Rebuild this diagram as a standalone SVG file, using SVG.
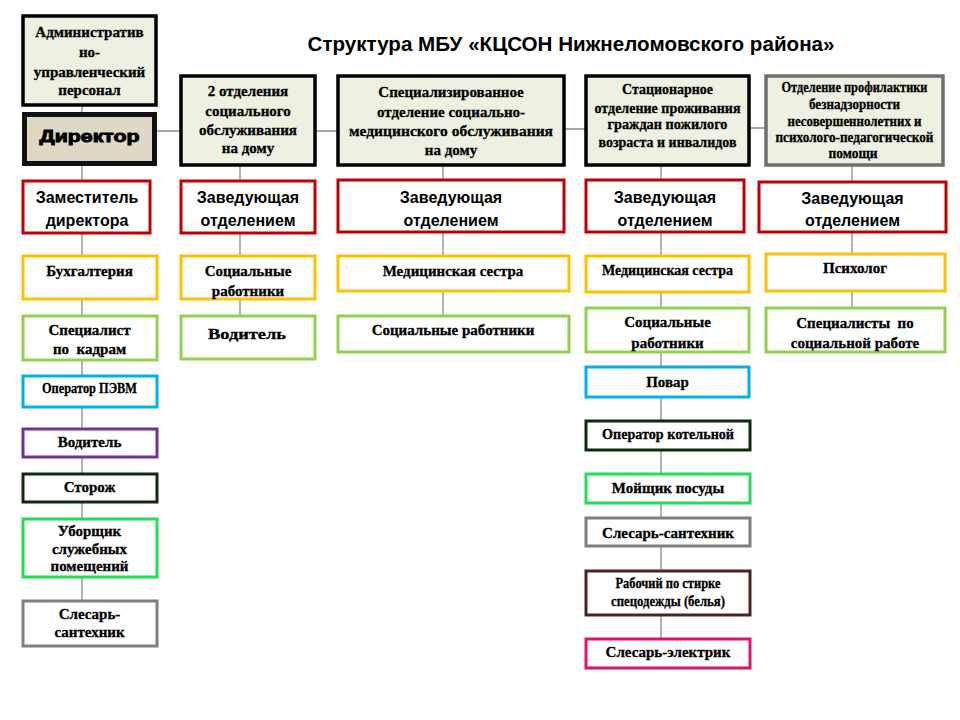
<svg xmlns="http://www.w3.org/2000/svg" width="960" height="720" viewBox="0 0 960 720">
<style>
.hd{fill:#eef0e2;stroke:#000;stroke-width:3.5}
.bx{fill:#fff;stroke-width:3}
.red{stroke:#c00000}.yel{stroke:#ffc000}.grn{stroke:#92d050}.cya{stroke:#00b0f0}
.pur{stroke:#7030a0}.dgr{stroke:#0e2a0e}.bgr{stroke:#22dd55}.gry{stroke:#808080}
.brn{stroke:#4f2222}.pnk{stroke:#e3106d}
.t{font-family:"Liberation Serif","Times New Roman",serif;font-weight:bold;font-size:15px;fill:#000;stroke:#000;stroke-width:0.3;text-anchor:middle}
.s{font-family:"Liberation Sans",Arial,sans-serif;font-weight:bold;font-size:16px;fill:#000;text-anchor:middle}
.c{fill:none;stroke:#8a8a8a;stroke-width:1.3}
</style>
<rect width="960" height="720" fill="#fff"/>
<text x="571" y="51" font-family="Liberation Sans,Arial,sans-serif" font-weight="bold" font-size="20" text-anchor="middle" textLength="527" lengthAdjust="spacingAndGlyphs">Структура МБУ «КЦСОН Нижнеломовского района»</text>
<g id="connectors">
<path class="c" d="M82 106V112M82 165V180M82 234V255M82 300V315M82 361V375M82 408V428M82 458V473M82 503V518M82 578V600"/>
<path class="c" d="M240 166V180M240 234V255M240 300V315"/>
<path class="c" d="M443 166V180M443 233V255M443 292V315"/>
<path class="c" d="M661 166V180M661 233V255M661 292V307M661 353V366M661 397V420M661 451V473M661 504V517M661 547V570M661 616V638"/>
<path class="c" d="M852 166V181M852 233V253M852 292V307"/>
<path class="c" d="M157 131H180M316 131H337M565 129H585M750 128H765"/>
</g>
<g id="admin"><rect class="hd" x="23" y="16" width="133" height="89"/>
<text class="t" x="89.5" y="37">Административ</text><text class="t" x="89.5" y="57">но-</text><text class="t" x="89.5" y="77">управленческий</text><text class="t" x="89.5" y="95">персонал</text></g>
<g id="director"><rect x="24.5" y="114.5" width="130" height="49" fill="#ddd9c4" stroke="#111" stroke-width="5"/>
<text class="s" x="89.5" y="142" font-size="22" stroke="#000" stroke-width="0.9" textLength="100" lengthAdjust="spacingAndGlyphs">Директор</text></g>
<g id="deputy"><rect class="bx red" x="23" y="181" width="127" height="52"/>
<text class="s" x="87" y="203">Заместитель</text><text class="s" x="87" y="226">директора</text></g>
<g id="buh"><rect class="bx yel" x="23" y="256" width="134" height="43"/><text class="t" x="89.5" y="276">Бухгалтерия</text></g>
<g id="kadry"><rect class="bx grn" x="23" y="316" width="134" height="44"/><text class="t" x="89.5" y="335">Специалист</text><text class="t" x="89.5" y="354">по&#160; кадрам</text></g>
<g id="pevm"><rect class="bx cya" x="23" y="376" width="134" height="31"/><text class="t" x="89.5" y="393" font-size="12" textLength="95" lengthAdjust="spacingAndGlyphs">Оператор ПЭВМ</text></g>
<g id="driver1"><rect class="bx pur" x="23" y="429" width="134" height="28"/><text class="t" x="89.5" y="447">Водитель</text></g>
<g id="guard"><rect class="bx dgr" x="23" y="474" width="134" height="28"/><text class="t" x="89.5" y="492">Сторож</text></g>
<g id="cleaner"><rect class="bx bgr" x="23" y="519" width="134" height="58"/><text class="t" x="89.5" y="536">Уборщик</text><text class="t" x="89.5" y="554">служебных</text><text class="t" x="89.5" y="571">помещений</text></g>
<g id="plumber1"><rect class="bx gry" x="23" y="601" width="134" height="45"/><text class="t" x="89.5" y="619">Слесарь-</text><text class="t" x="89.5" y="637">сантехник</text></g>

<g id="dept2"><rect class="hd" x="181" y="76" width="134" height="89"/>
<text class="t" x="248" y="96">2 отделения</text><text class="t" x="248" y="116">социального</text><text class="t" x="248" y="135">обслуживания</text><text class="t" x="248" y="153">на дому</text></g>
<g id="head2"><rect class="bx red" x="181" y="181" width="134" height="52"/><text class="s" x="248" y="203">Заведующая</text><text class="s" x="248" y="226">отделением</text></g>
<g id="soc2"><rect class="bx yel" x="181" y="256" width="134" height="43"/><text class="t" x="248" y="276">Социальные</text><text class="t" x="248" y="296">работники</text></g>
<g id="driver2"><rect class="bx grn" x="181" y="316" width="134" height="43"/><text class="t" x="247" y="339" font-size="20" textLength="78" lengthAdjust="spacingAndGlyphs">Водитель</text></g>

<g id="dept3"><rect class="hd" x="338" y="76" width="226" height="89"/>
<text class="t" x="451" y="97">Специализированное</text><text class="t" x="451" y="117">отделение социально-</text><text class="t" x="451" y="136" textLength="204" lengthAdjust="spacingAndGlyphs">медицинского обслуживания</text><text class="t" x="451" y="155">на дому</text></g>
<g id="head3"><rect class="bx red" x="338" y="180" width="226" height="52"/><text class="s" x="451" y="203">Заведующая</text><text class="s" x="451" y="226">отделением</text></g>
<g id="nurse3"><rect class="bx yel" x="338" y="256" width="231" height="35"/><text class="t" x="453" y="276">Медицинская сестра</text></g>
<g id="soc3"><rect class="bx grn" x="338" y="316" width="231" height="36"/><text class="t" x="453" y="335">Социальные работники</text></g>

<g id="dept4"><rect class="hd" x="586" y="76" width="163" height="89"/>
<text class="t" x="667.5" y="94" font-size="14" textLength="91" lengthAdjust="spacingAndGlyphs">Стационарное</text><text class="t" x="667.5" y="113" font-size="14" textLength="146" lengthAdjust="spacingAndGlyphs">отделение проживания</text><text class="t" x="667.5" y="129" font-size="14" textLength="120" lengthAdjust="spacingAndGlyphs">граждан пожилого</text><text class="t" x="667.5" y="147" font-size="14" textLength="138" lengthAdjust="spacingAndGlyphs">возраста и инвалидов</text></g>
<g id="head4"><rect class="bx red" x="586" y="180" width="158" height="52"/><text class="s" x="665" y="203">Заведующая</text><text class="s" x="665" y="226">отделением</text></g>
<g id="nurse4"><rect class="bx yel" x="586" y="256" width="163" height="36"/><text class="t" x="667.5" y="275" font-size="14" textLength="131" lengthAdjust="spacingAndGlyphs">Медицинская сестра</text></g>
<g id="soc4"><rect class="bx grn" x="586" y="308" width="163" height="44"/><text class="t" x="667.5" y="327">Социальные</text><text class="t" x="667.5" y="348">работники</text></g>
<g id="cook"><rect class="bx cya" x="586" y="367" width="163" height="30"/><text class="t" x="667.5" y="387">Повар</text></g>
<g id="boiler"><rect class="bx dgr" x="586" y="421" width="164" height="29"/><text class="t" x="668" y="439" font-size="14" textLength="132" lengthAdjust="spacingAndGlyphs">Оператор котельной</text></g>
<g id="dish"><rect class="bx bgr" x="586" y="474" width="164" height="29"/><text class="t" x="668" y="493">Мойщик посуды</text></g>
<g id="plumber2"><rect class="bx gry" x="586" y="518" width="164" height="28"/><text class="t" x="668" y="538">Слесарь-сантехник</text></g>
<g id="laundry"><rect class="bx brn" x="586" y="571" width="164" height="44"/><text class="t" x="668" y="588" font-size="11.5" textLength="105" lengthAdjust="spacingAndGlyphs">Рабочий по стирке</text><text class="t" x="668" y="606" font-size="11.5" textLength="114" lengthAdjust="spacingAndGlyphs">спецодежды (белья)</text></g>
<g id="electric"><rect class="bx pnk" x="586" y="639" width="164" height="29"/><text class="t" x="668" y="657">Слесарь-электрик</text></g>

<g id="dept5"><rect x="766" y="76" width="177" height="89" fill="#eef0e2" stroke="#6e6e6e" stroke-width="3.5"/>
<text class="t" x="854.5" y="92" font-size="11.5" textLength="146" lengthAdjust="spacingAndGlyphs">Отделение профилактики</text><text class="t" x="854.5" y="109" font-size="11.5" textLength="91" lengthAdjust="spacingAndGlyphs">безнадзорности</text><text class="t" x="854.5" y="126" font-size="11.5" textLength="134" lengthAdjust="spacingAndGlyphs">несовершеннолетних и</text><text class="t" x="854.5" y="142" font-size="11.5" textLength="158" lengthAdjust="spacingAndGlyphs">психолого-педагогической</text><text class="t" x="853" y="158" font-size="11.5" textLength="49" lengthAdjust="spacingAndGlyphs">помощи</text></g>
<g id="head5"><rect class="bx red" x="759" y="182" width="187" height="50"/><text class="s" x="852.5" y="204">Заведующая</text><text class="s" x="852.5" y="226">отделением</text></g>
<g id="psych"><rect class="bx yel" x="766" y="254" width="179" height="37"/><text class="t" x="855" y="273">Психолог</text></g>
<g id="socwork"><rect class="bx grn" x="766" y="308" width="179" height="44"/><text class="t" x="855" y="328">Специалисты&#160; по</text><text class="t" x="855" y="348">социальной работе</text></g>
</svg>
